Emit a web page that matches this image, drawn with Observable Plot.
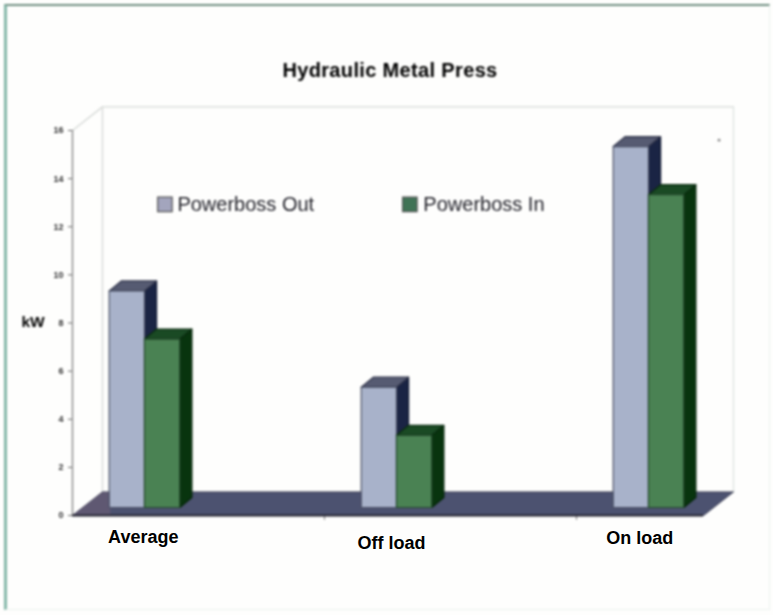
<!DOCTYPE html>
<html>
<head>
<meta charset="utf-8">
<script src="https://cdn.jsdelivr.net/npm/d3@7"></script>
<script src="https://cdn.jsdelivr.net/npm/@observablehq/plot@0.6"></script>
<style>
  html, body { margin: 0; padding: 0; background: #fff; }
  #frame { position: relative; width: 773px; height: 615px; overflow: hidden; background: #fefefd; font-family: "Liberation Sans", Arial, sans-serif; }
  #border { position: absolute; left: 4px; top: 4px; right: 3px; bottom: 5px; border: 1px solid #eef3f0; border-left: 3px solid #86b8aa; border-top: 2px solid #6f8f82; pointer-events: none; filter: blur(0.8px); }
  #title { height: 85px; box-sizing: border-box; padding-top: 60px; padding-left: 0; width: 780px; text-align: center; font-weight: bold; font-size: 20px; letter-spacing: 0.35px; line-height: 20px; color: #000; filter: blur(0.8px); }
  svg { display: block; background: transparent; }
  svg.blurred { filter: blur(0.8px); }
  svg.labels { position: absolute; left: 0; top: 85px; }
  g[aria-label="legend"] text { letter-spacing: 0.45px; }
</style>
</head>
<body>
<div id="frame"><div id="border"></div><div id="title">Hydraulic Metal Press</div></div>
<script>
const categories = ["Average", "Off load", "On load"];
const seriesNames = ["Powerboss Out", "Powerboss In"];
const powerbossOut = [9, 5, 15];
const powerbossIn = [7, 3, 13];
const yTicks = [0, 2, 4, 6, 8, 10, 12, 14, 16];

// Oblique projection of the 3D look, all in data units
const barW = 0.14, depthX = 0.048, depthY = 0.415, baseY = 0.333;
const floorX = 0.119, floorY = 0.98;
const xMin = -0.2857, xMax = 2.2183, yMax = 16;

function faces(values, left) {
  const side = [], top = [], front = [];
  values.forEach((v, i) => {
    const x1 = i + left, x2 = x1 + barW, t = v + baseY;
    front.push([x1, baseY, i], [x2, baseY, i], [x2, t, i], [x1, t, i], [x1, baseY, i]);
    side.push([x2, baseY, i], [x2 + depthX, baseY + depthY, i], [x2 + depthX, t + depthY, i], [x2, t, i], [x2, baseY, i]);
    top.push([x1, t, i], [x2, t, i], [x2 + depthX, t + depthY, i], [x1 + depthX, t + depthY, i], [x1, t, i]);
  });
  return {side, top, front};
}
const face = (pts, fill, stroke) => Plot.line(pts, {x: d => d[0], y: d => d[1], z: d => d[2], fill, stroke, strokeWidth: 1.2, curve: "linear"});
const blue = faces(powerbossOut, -barW);
const green = faces(powerbossIn, 0);

const floor = [[xMin, 0], [xMax, 0], [xMax + floorX, floorY], [xMin + floorX, floorY], [xMin, 0]];
const floorLeft = [[xMin, 0], [xMin + 0.15, 0], [xMin + 0.15, floorY], [xMin + floorX, floorY], [xMin, 0]];
const wall = [[xMin, yMax], [xMin + floorX, yMax + floorY], [xMax + floorX, yMax + floorY]];
const wallLeft = [[xMin + floorX, floorY], [xMin + floorX, yMax + floorY]];
const wallRight = [[xMax + floorX, floorY], [xMax + floorX, yMax + floorY]];

const labelY = [-0.92, -1.17, -0.96];
const labelX = [-0.005, 0.98, 1.965];
const legendX = [0.081, 1.053];
const legendDx = [12.5, 13.5];
const legendY = 12.93;
const swatch = ["#a3a5bd", "#3f7355"];

const legendLabel = i => Plot.text([seriesNames[i]], {x: legendX[i], y: legendY, text: d => d, dx: legendDx[i], textAnchor: "start", fontSize: 20, fill: "#1e1e26", ariaLabel: "legend"});

const frameOptions = {
  width: 773, height: 530,
  marginLeft: 72, marginRight: 70, marginTop: 45, marginBottom: 100,
  x: {type: "linear", domain: [xMin, xMax], axis: null},
  y: {type: "linear", domain: [0, yMax], axis: null},
  style: {background: "transparent", fontFamily: "Liberation Sans, Arial, sans-serif"}
};

const chart = Plot.plot({
  ...frameOptions,
  marks: [
    Plot.line(wall, {x: d => d[0], y: d => d[1], stroke: "#d8dbd8", strokeWidth: 1.4}),
    Plot.line(wallLeft, {x: d => d[0], y: d => d[1], stroke: "#d8dbd8", strokeWidth: 1.4}),
    Plot.line(wallRight, {x: d => d[0], y: d => d[1], stroke: "#e0e5e2", strokeWidth: 1.4}),
    Plot.ruleX([xMin], {y1: 0, y2: yMax, stroke: "#8a8a8a", strokeWidth: 1.4}),
    Plot.axisY({ticks: yTicks, tickSize: 4, tickPadding: 5, fontSize: 9, stroke: "#666", color: "#333", label: null, fontWeight: "bold"}),
    Plot.ruleX([xMin + 1, xMin + 2], {y1: -0.2, y2: 0, stroke: "#7a7a7a"}),
    Plot.line(floor, {x: d => d[0], y: d => d[1], fill: "#4c5270", stroke: "#3d4054", strokeWidth: 1}),
    Plot.line(floorLeft, {x: d => d[0], y: d => d[1], fill: "#5f5872", strokeWidth: 0}),
    Plot.ruleY([0], {x1: xMin, x2: xMax, stroke: "#22222e", strokeWidth: 2}),
    face(blue.side, "#1a2444", "#101830"),
    face(blue.top, "#565b72", "#30344a"),
    face(blue.front, "#a8b2ca", "#4a5064"),
    face(green.side, "#08340e", "#042408"),
    face(green.top, "#1a4a24", "#0a2c10"),
    face(green.front, "#4a8253", "#24482c"),
    Plot.dot(seriesNames, {x: (d, i) => legendX[i], y: legendY, symbol: "square", r: 8.2, fill: (d, i) => swatch[i], stroke: "#555", strokeWidth: 1.2}),
    legendLabel(0),
    legendLabel(1),
    Plot.text(["kW"], {x: xMin, y: 8.05, text: d => d, dx: -39.5, fontSize: 15.5, fontWeight: "bold", fill: "#000"}),
    Plot.dot(["·"], {x: 2.28, y: 15.6, r: 1.4, fill: "#888"})
  ]
});
chart.classList.add("blurred");

const labels = Plot.plot({
  ...frameOptions,
  marks: [
    Plot.text(categories, {x: (d, i) => labelX[i], y: (d, i) => labelY[i], text: d => d, fontSize: 18, fontWeight: "bold", fill: "#000"})
  ]
});
labels.classList.add("labels");

const host = document.getElementById("frame");
host.appendChild(chart);
host.appendChild(labels);
</script>
</body>
</html>
